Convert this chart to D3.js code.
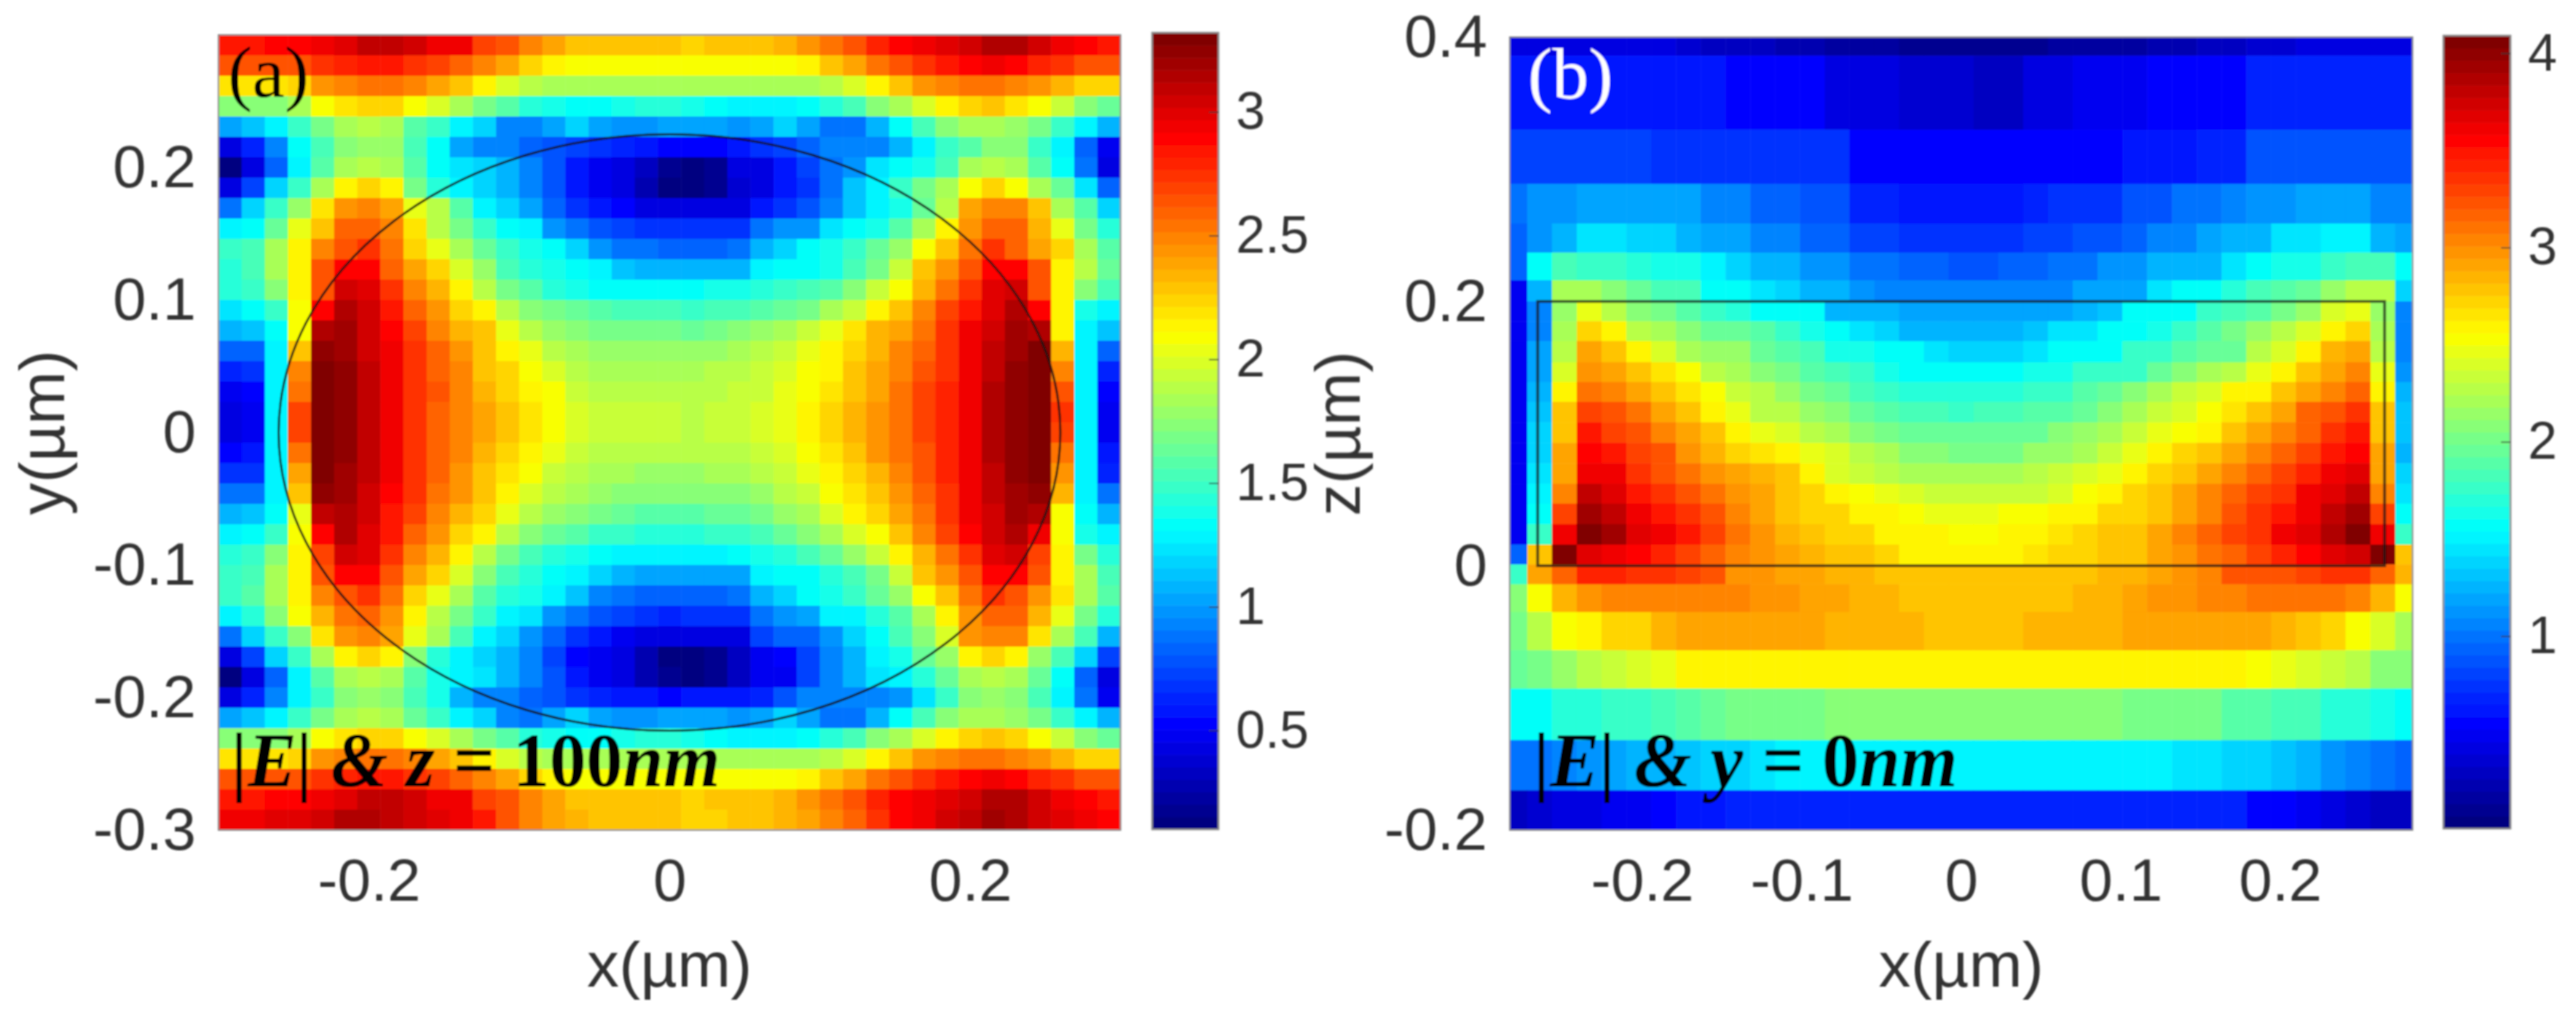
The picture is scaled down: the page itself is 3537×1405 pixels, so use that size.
<!DOCTYPE html>
<html>
<head>
<meta charset="utf-8">
<script src="https://cdnjs.cloudflare.com/ajax/libs/d3/7.8.5/d3.min.js"></script>
<style>
  body { margin: 0; background: #fff; }
  text { font-family: "Liberation Sans", Arial, sans-serif; fill: #333; }
  text.note { font-family: "Liberation Serif", serif; }
</style>
</head>
<body>
<div id="chart"></div>
<script>
// |E| at z = 100 nm, top row first, 39 x 39 cells
const fieldA = [
  [2.85,2.85,2.9,2.9,2.95,3.0,3.08,3.1,3.02,2.95,2.92,2.7,2.63,2.5,2.41,2.3,2.27,2.27,2.27,2.27, 2.26,2.3,2.3,2.3,2.35,2.45,2.52,2.65,2.78,2.9,2.93,3.0,3.05,3.12,3.15,3.05,2.95,2.88,2.85],
  [2.65,2.65,2.62,2.62,2.75,2.8,2.85,2.85,2.76,2.68,2.57,2.5,2.38,2.25,2.16,2.11,2.11,2.11,2.11,2.11, 2.1,2.1,2.1,2.1,2.1,2.16,2.28,2.4,2.52,2.65,2.75,2.85,2.9,2.92,2.88,2.8,2.75,2.62,2.62],
  [2.2,2.2,2.2,2.25,2.45,2.5,2.52,2.52,2.5,2.41,2.27,2.13,1.97,1.91,1.85,1.85,1.85,1.85,1.85,1.85, 1.85,1.85,1.85,1.85,1.85,1.85,1.9,2.0,2.15,2.28,2.42,2.5,2.52,2.55,2.5,2.45,2.35,2.25,2.25],
  [1.75,1.72,1.72,1.85,2.1,2.2,2.24,2.24,2.11,2.0,1.85,1.69,1.56,1.44,1.36,1.31,1.31,1.37,1.44,1.44, 1.4,1.35,1.28,1.28,1.3,1.35,1.42,1.55,1.72,1.85,2.0,2.12,2.25,2.3,2.2,2.08,1.92,1.75,1.65],
  [1.05,1.15,1.3,1.5,1.7,1.85,1.88,1.85,1.6,1.5,1.26,1.18,.94,.91,1.04,1.2,1.04,1.0,1.0,1.02, 1.05,1.02,1.0,1.05,1.2,1.05,.9,.9,1.1,1.35,1.55,1.72,1.85,1.85,1.8,1.68,1.5,1.28,1.1],
  [.45,.65,.95,1.32,1.52,1.72,1.78,1.78,1.53,1.33,1.04,.94,.91,.85,.78,.72,.66,.61,.56,.55, .55,.55,.58,.66,.74,.85,.91,.91,.94,1.08,1.27,1.47,1.6,1.75,1.72,1.5,1.3,.85,.5],
  [.12,.42,.85,1.3,1.6,1.82,1.9,1.85,1.56,1.34,1.21,1.16,1.1,.91,.78,.6,.5,.45,.32,.2, .15,.2,.43,.45,.56,.72,.87,1.0,1.23,1.31,1.37,1.53,1.85,1.9,1.85,1.6,1.31,.9,.45],
  [.45,.72,1.2,1.5,1.85,2.12,2.25,2.12,1.69,1.44,1.26,1.2,1.07,.91,.78,.58,.5,.43,.27,.12, .11,.16,.4,.42,.56,.7,.9,1.13,1.29,1.47,1.69,1.85,2.11,2.24,2.11,1.85,1.63,1.23,.82],
  [.9,1.18,1.48,1.78,2.2,2.45,2.48,2.4,2.05,1.88,1.56,1.3,1.2,1.02,.85,.69,.6,.52,.45,.43, .42,.42,.45,.6,.66,.77,.94,1.13,1.26,1.4,1.63,1.91,2.38,2.47,2.47,2.27,1.85,1.6,1.16],
  [1.3,1.35,1.65,2.05,2.3,2.58,2.58,2.5,2.18,1.91,1.66,1.5,1.31,1.26,.97,.88,.78,.72,.69,.67, .69,.69,.69,.88,1.0,1.0,1.23,1.31,1.4,1.6,1.85,2.15,2.45,2.58,2.58,2.35,2.05,1.7,1.45],
  [1.5,1.55,1.85,2.15,2.5,2.62,2.72,2.55,2.25,2.06,1.85,1.63,1.5,1.37,1.31,1.16,.97,.9,.86,.85, .85,.85,.88,1.1,1.2,1.31,1.38,1.5,1.62,1.78,2.08,2.3,2.55,2.75,2.6,2.38,2.22,1.85,1.6],
  [1.45,1.52,1.85,2.15,2.65,2.88,2.88,2.6,2.38,2.22,2.0,1.78,1.53,1.44,1.36,1.31,1.26,1.13,1.1,1.1, 1.1,1.1,1.1,1.28,1.32,1.35,1.4,1.55,1.7,1.95,2.28,2.42,2.62,2.88,2.88,2.62,2.12,1.88,1.62],
  [1.42,1.48,1.72,2.15,2.65,3.05,3.0,2.73,2.5,2.35,2.14,1.91,1.69,1.56,1.44,1.39,1.34,1.31,1.31,1.31, 1.32,1.38,1.4,1.45,1.5,1.52,1.6,1.75,1.95,2.1,2.32,2.55,2.72,2.98,3.05,2.65,2.12,1.72,1.52],
  [1.25,1.32,1.5,2.1,2.88,3.15,3.02,2.83,2.57,2.44,2.24,2.14,1.91,1.75,1.66,1.63,1.56,1.55,1.53,1.52, 1.5,1.52,1.55,1.58,1.65,1.7,1.82,1.95,2.12,2.3,2.48,2.7,2.82,3.0,3.12,2.88,2.12,1.4,1.3],
  [1.1,1.12,1.32,2.08,3.12,3.18,3.05,2.87,2.7,2.5,2.36,2.27,2.06,1.91,1.78,1.75,1.7,1.7,1.68,1.68, 1.65,1.68,1.72,1.78,1.85,1.95,2.05,2.18,2.32,2.4,2.55,2.75,2.95,3.05,3.18,3.15,2.15,1.3,1.12],
  [.82,.85,1.28,2.3,3.25,3.2,3.05,2.94,2.73,2.57,2.44,2.29,2.16,2.02,1.91,1.85,1.8,1.8,1.79,1.79, 1.78,1.8,1.82,1.88,1.95,2.02,2.12,2.22,2.35,2.48,2.6,2.75,2.95,3.1,3.2,3.28,2.35,1.28,.82],
  [.65,.7,1.28,2.48,3.28,3.22,3.08,2.95,2.76,2.6,2.49,2.31,2.22,2.1,1.97,1.91,1.86,1.86,1.85,1.85, 1.85,1.88,1.9,1.95,2.0,2.08,2.15,2.3,2.38,2.48,2.65,2.75,2.95,3.1,3.22,3.3,2.5,1.28,.65],
  [.5,.55,1.28,2.55,3.3,3.25,3.1,2.95,2.76,2.62,2.5,2.36,2.25,2.16,2.08,1.96,1.89,1.89,1.88,1.88, 1.88,1.9,1.92,1.95,2.02,2.1,2.2,2.3,2.4,2.52,2.68,2.78,2.95,3.12,3.25,3.3,2.65,1.28,.55],
  [.45,.48,1.28,2.7,3.32,3.25,3.1,2.95,2.76,2.6,2.5,2.38,2.28,2.2,2.11,2.0,1.92,1.92,1.92,1.92, 1.9,1.92,1.95,1.98,2.05,2.12,2.25,2.32,2.42,2.55,2.7,2.8,2.95,3.12,3.25,3.32,2.72,1.28,.48],
  [.45,.48,1.28,2.7,3.32,3.25,3.1,2.95,2.76,2.6,2.5,2.38,2.28,2.2,2.11,2.0,1.92,1.92,1.92,1.92, 1.9,1.92,1.95,2.0,2.05,2.12,2.25,2.32,2.42,2.55,2.7,2.8,2.95,3.12,3.25,3.32,2.7,1.28,.48],
  [.55,.6,1.28,2.55,3.3,3.25,3.1,2.95,2.74,2.6,2.5,2.35,2.25,2.15,2.06,1.95,1.88,1.88,1.87,1.87, 1.88,1.88,1.9,1.92,2.0,2.08,2.2,2.3,2.42,2.52,2.65,2.78,2.95,3.12,3.25,3.3,2.55,1.28,.58],
  [.68,.7,1.28,2.4,3.28,3.2,3.08,2.93,2.74,2.58,2.46,2.3,2.2,2.08,1.96,1.9,1.84,1.82,1.8,1.8, 1.8,1.82,1.85,1.88,1.95,2.02,2.12,2.25,2.35,2.48,2.62,2.78,2.95,3.1,3.22,3.28,2.42,1.3,.65],
  [.88,.9,1.28,2.3,3.25,3.18,3.05,2.9,2.72,2.55,2.42,2.28,2.14,2.0,1.9,1.82,1.77,1.75,1.72,1.72, 1.72,1.72,1.75,1.8,1.88,1.95,2.08,2.2,2.28,2.42,2.6,2.75,2.95,3.08,3.2,3.25,2.32,1.3,.88],
  [1.1,1.12,1.32,2.05,3.08,3.12,3.02,2.86,2.68,2.5,2.34,2.25,2.05,1.9,1.78,1.72,1.66,1.62,1.6,1.6, 1.6,1.62,1.65,1.7,1.78,1.85,1.98,2.12,2.22,2.38,2.55,2.72,2.92,3.05,3.18,3.15,2.1,1.32,1.1],
  [1.28,1.32,1.5,2.1,2.9,3.12,3.0,2.82,2.58,2.44,2.24,2.12,1.9,1.73,1.62,1.56,1.5,1.48,1.45,1.45, 1.45,1.48,1.5,1.55,1.62,1.72,1.85,1.98,2.1,2.28,2.48,2.68,2.88,3.02,3.15,2.92,2.1,1.4,1.3],
  [1.42,1.48,1.72,2.15,2.68,3.05,2.98,2.74,2.5,2.35,2.14,1.9,1.7,1.55,1.44,1.36,1.32,1.3,1.3,1.28, 1.28,1.3,1.32,1.38,1.45,1.55,1.65,1.78,1.95,2.12,2.32,2.55,2.75,2.98,3.05,2.68,2.12,1.7,1.45],
  [1.48,1.55,1.85,2.15,2.62,2.88,2.88,2.62,2.38,2.22,2.0,1.76,1.52,1.42,1.35,1.3,1.2,1.08,1.04,1.03, 1.02,1.02,1.05,1.28,1.32,1.35,1.42,1.55,1.7,1.95,2.28,2.42,2.65,2.88,2.88,2.62,2.15,1.85,1.55],
  [1.5,1.58,1.85,2.15,2.5,2.62,2.72,2.56,2.25,2.06,1.82,1.6,1.45,1.36,1.3,1.12,.95,.9,.85,.84, .85,.85,.88,1.1,1.2,1.31,1.38,1.5,1.62,1.8,2.08,2.3,2.55,2.75,2.62,2.42,2.2,1.85,1.6],
  [1.3,1.42,1.72,2.08,2.32,2.55,2.58,2.45,2.15,1.9,1.66,1.48,1.3,1.25,1.0,.88,.78,.72,.66,.64, .69,.69,.69,.88,1.0,1.02,1.28,1.3,1.42,1.6,1.85,2.15,2.42,2.58,2.58,2.35,2.05,1.7,1.45],
  [.88,1.18,1.5,1.75,2.2,2.45,2.48,2.38,2.05,1.85,1.55,1.3,1.18,1.0,.85,.7,.58,.5,.44,.42, .42,.42,.42,.72,.85,.82,.97,1.2,1.31,1.52,1.72,2.0,2.42,2.5,2.5,2.2,1.85,1.55,1.1],
  [.45,.72,1.18,1.5,1.85,2.12,2.25,2.12,1.72,1.44,1.28,1.2,1.07,.91,.72,.53,.5,.42,.3,.13, .13,.2,.34,.47,.53,.72,.91,1.07,1.26,1.4,1.62,1.8,2.12,2.25,2.12,1.8,1.55,1.18,.75],
  [.12,.42,.85,1.28,1.6,1.82,1.9,1.85,1.6,1.37,1.26,1.21,1.08,.91,.77,.6,.5,.43,.3,.17, .12,.2,.32,.46,.5,.74,.91,1.1,1.24,1.3,1.42,1.65,1.85,1.9,1.85,1.62,1.32,.85,.42],
  [.42,.65,.92,1.3,1.5,1.72,1.78,1.75,1.55,1.36,1.1,.91,.91,.84,.78,.7,.65,.6,.57,.55, .56,.56,.58,.62,.78,.91,.94,.94,.94,.97,1.23,1.5,1.72,1.8,1.75,1.55,1.3,.9,.5],
  [1.05,1.15,1.3,1.5,1.7,1.85,1.88,1.82,1.62,1.5,1.26,1.18,.94,.9,1.02,1.18,1.02,1.0,1.0,1.02, 1.05,1.02,1.0,1.05,1.18,1.05,.9,.9,1.1,1.35,1.55,1.72,1.85,1.85,1.8,1.68,1.5,1.28,1.1],
  [1.75,1.72,1.72,1.85,2.1,2.2,2.24,2.24,2.11,2.0,1.85,1.69,1.56,1.44,1.36,1.31,1.31,1.37,1.44,1.44, 1.4,1.35,1.28,1.28,1.3,1.35,1.42,1.55,1.72,1.85,2.0,2.12,2.25,2.3,2.22,2.08,1.92,1.75,1.65],
  [2.2,2.2,2.2,2.25,2.45,2.5,2.52,2.52,2.5,2.41,2.27,2.13,1.97,1.91,1.85,1.85,1.85,1.85,1.85,1.85, 1.85,1.85,1.85,1.85,1.85,1.85,1.9,2.0,2.15,2.28,2.42,2.5,2.52,2.55,2.5,2.45,2.35,2.25,2.25],
  [2.65,2.65,2.62,2.62,2.75,2.8,2.85,2.85,2.76,2.68,2.57,2.5,2.38,2.25,2.16,2.11,2.11,2.11,2.11,2.11, 2.1,2.1,2.1,2.1,2.1,2.16,2.28,2.4,2.52,2.65,2.75,2.85,2.9,2.92,2.88,2.8,2.75,2.62,2.62],
  [2.85,2.85,2.9,2.9,2.95,3.0,3.08,3.1,3.02,2.95,2.92,2.7,2.63,2.5,2.41,2.3,2.27,2.27,2.27,2.27, 2.26,2.28,2.3,2.3,2.35,2.45,2.52,2.65,2.78,2.9,2.93,3.0,3.05,3.12,3.15,3.05,2.95,2.88,2.85],
  [2.92,2.92,2.97,2.97,3.03,3.12,3.12,3.1,3.05,3.0,2.92,2.86,2.66,2.5,2.4,2.32,2.29,2.29,2.29,2.29, 2.22,2.25,2.28,2.3,2.32,2.38,2.48,2.6,2.75,2.9,2.95,3.02,3.1,3.18,3.15,3.05,2.98,2.92,2.9]
];

// |E| at y = 0 nm, top row first, 37 columns x 27 rows on a non-uniform mesh
const fieldB = [
  [.4,.4,.4,.4,.4,.4,.4,.38,.3,.3,.3,.25,.25,.2,.2,.2,.12,.12,.08,.08,.1,.12,.18,.18,.18,.2,.22,.25,.28,.3,.35,.38,.42,.42,.42,.42,.42],
  [.64,.64,.64,.64,.64,.64,.6,.6,.6,.56,.56,.56,.56,.45,.45,.45,.33,.33,.33,.3,.3,.4,.4,.48,.48,.48,.52,.52,.57,.57,.66,.66,.66,.66,.66,.66,.66],
  [.8,.8,.8,.8,.8,.8,.76,.76,.76,.76,.76,.72,.72,.72,.56,.56,.52,.52,.52,.52,.52,.52,.52,.52,.52,.64,.64,.64,.7,.7,.84,.84,.84,.84,.84,.84,.84],
  [1.0,1.12,1.12,1.2,1.2,1.2,1.16,1.16,1.06,1.06,.96,.96,.86,.86,.7,.7,.6,.6,.6,.6,.62,.7,.72,.76,.76,.9,.9,.98,.98,1.04,1.14,1.14,1.2,1.2,1.2,1.08,1.04],
  [.92,1.12,1.28,1.44,1.44,1.38,1.38,1.28,1.18,1.18,1.04,1.04,.92,.92,.8,.8,.74,.74,.74,.72,.72,.8,.8,.9,.9,.96,1.08,1.08,1.16,1.28,1.28,1.42,1.42,1.5,1.5,1.28,1.2],
  [.92,1.54,1.82,1.78,1.78,1.7,1.66,1.66,1.48,1.36,1.24,1.24,1.12,1.12,1.0,1.0,.92,.92,.9,.88,.94,.94,1.02,1.02,1.12,1.12,1.28,1.28,1.28,1.42,1.56,1.66,1.66,1.74,1.82,1.82,1.54],
  [.5,1.28,2.22,2.22,2.1,1.94,1.82,1.82,1.6,1.54,1.46,1.36,1.24,1.24,1.14,1.06,1.06,1.06,1.04,1.04,1.04,1.08,1.08,1.18,1.18,1.18,1.44,1.54,1.56,1.7,1.82,1.86,1.98,2.14,2.26,2.26,1.36],
  [.5,1.08,2.14,2.46,2.3,2.1,2.02,1.9,1.78,1.7,1.56,1.54,1.54,1.28,1.24,1.24,1.2,1.16,1.16,1.16,1.16,1.22,1.22,1.28,1.32,1.54,1.54,1.54,1.74,1.82,1.9,2.02,2.14,2.38,2.46,2.14,1.08],
  [.5,1.08,2.22,2.72,2.56,2.3,2.22,2.06,1.94,1.94,1.86,1.78,1.66,1.56,1.42,1.36,1.28,1.28,1.28,1.28,1.28,1.34,1.42,1.42,1.54,1.58,1.64,1.78,1.9,2.02,2.14,2.26,2.38,2.56,2.72,2.22,1.08],
  [.5,1.16,2.26,2.9,2.8,2.56,2.38,2.22,2.14,2.14,1.98,1.9,1.82,1.66,1.66,1.56,1.54,1.44,1.38,1.36,1.36,1.42,1.54,1.54,1.6,1.74,1.74,1.86,1.98,1.98,2.3,2.42,2.56,2.82,2.88,2.3,1.08],
  [.5,1.2,2.42,3.0,2.88,2.78,2.68,2.5,2.26,2.2,2.1,2.02,1.9,1.82,1.74,1.62,1.56,1.56,1.54,1.54,1.56,1.62,1.66,1.74,1.78,1.78,1.98,2.1,2.22,2.26,2.46,2.62,2.8,2.9,3.02,2.46,1.12],
  [.5,1.28,2.56,3.12,3.04,2.92,2.76,2.68,2.5,2.34,2.26,2.14,2.02,1.94,1.82,1.74,1.7,1.7,1.7,1.7,1.7,1.74,1.78,1.86,1.98,2.1,2.22,2.34,2.42,2.56,2.62,2.8,2.92,3.06,3.16,2.56,1.28],
  [.5,1.32,2.76,3.32,3.24,3.12,2.9,2.8,2.62,2.46,2.3,2.26,2.14,2.06,1.94,1.86,1.82,1.82,1.78,1.82,1.82,1.86,1.86,1.98,2.1,2.22,2.34,2.38,2.5,2.64,2.78,2.9,3.14,3.24,3.34,2.76,1.32],
  [.5,1.36,2.76,3.46,3.32,3.22,3.06,2.9,2.76,2.62,2.46,2.38,2.3,2.22,2.1,2.02,1.98,1.94,1.94,1.98,1.98,1.98,2.06,2.14,2.22,2.34,2.46,2.5,2.62,2.78,2.9,3.06,3.18,3.34,3.46,2.76,1.32],
  [.5,1.38,2.9,3.52,3.46,3.3,3.2,2.98,2.82,2.72,2.64,2.56,2.44,2.38,2.26,2.18,2.1,2.06,2.02,2.04,2.04,2.14,2.14,2.24,2.32,2.44,2.56,2.72,2.8,2.88,3.02,3.18,3.3,3.46,3.52,2.9,1.28],
  [.5,1.42,2.92,3.64,3.58,3.38,3.26,3.1,2.98,2.88,2.82,2.76,2.56,2.42,2.34,2.3,2.24,2.18,2.18,2.2,2.2,2.26,2.32,2.38,2.48,2.56,2.74,2.78,2.9,3.02,3.14,3.28,3.42,3.58,3.66,2.92,1.38],
  [.5,1.5,3.06,3.8,3.68,3.46,3.38,3.24,3.1,2.96,2.9,2.8,2.72,2.56,2.52,2.44,2.38,2.34,2.34,2.36,2.36,2.36,2.42,2.5,2.56,2.72,2.76,2.9,3.04,3.16,3.28,3.38,3.6,3.66,3.8,3.06,1.44],
  [.5,1.54,3.28,3.92,3.8,3.58,3.48,3.36,3.2,3.02,2.92,2.8,2.74,2.72,2.56,2.56,2.5,2.44,2.44,2.44,2.5,2.54,2.56,2.56,2.7,2.74,2.8,2.92,3.06,3.2,3.36,3.48,3.6,3.82,3.92,3.28,1.54],
  [.5,1.78,3.58,4.08,3.92,3.7,3.6,3.46,3.32,3.12,2.98,2.82,2.76,2.74,2.7,2.62,2.58,2.58,2.5,2.5,2.56,2.56,2.64,2.72,2.76,2.8,2.9,3.02,3.18,3.28,3.38,3.58,3.66,3.86,4.08,3.58,1.78],
  [.96,2.76,4.08,3.7,3.64,3.52,3.44,3.32,3.18,3.06,2.98,2.9,2.84,2.8,2.76,2.74,2.62,2.62,2.56,2.56,2.56,2.64,2.72,2.72,2.76,2.76,2.9,3.0,3.08,3.14,3.28,3.4,3.52,3.66,3.74,4.09,2.76],
  [1.78,2.9,3.14,3.42,3.4,3.38,3.34,3.3,3.26,2.98,2.96,2.9,2.9,2.84,2.82,2.8,2.76,2.76,2.76,2.76,2.76,2.76,2.76,2.76,2.84,2.84,2.9,2.98,3.06,3.24,3.24,3.24,3.3,3.38,3.38,3.14,2.84],
  [2.06,2.5,2.82,2.98,3.06,3.06,3.06,3.06,3.06,3.02,2.98,2.95,2.9,2.88,2.85,2.85,2.8,2.78,2.78,2.78,2.78,2.78,2.8,2.82,2.85,2.88,2.95,2.98,3.02,3.02,3.08,3.1,3.12,3.08,3.02,2.82,2.5],
  [2.0,2.25,2.5,2.62,2.7,2.75,2.85,2.88,2.88,2.88,2.88,2.88,2.88,2.85,2.85,2.82,2.82,2.8,2.78,2.78,2.8,2.82,2.82,2.85,2.85,2.88,2.88,2.88,2.88,2.88,2.88,2.85,2.78,2.75,2.55,2.42,2.2],
  [1.95,2.0,2.12,2.25,2.35,2.42,2.48,2.56,2.56,2.56,2.56,2.56,2.56,2.56,2.56,2.56,2.56,2.56,2.56,2.56,2.56,2.56,2.56,2.56,2.56,2.56,2.56,2.56,2.56,2.56,2.5,2.46,2.4,2.36,2.28,2.1,2.05],
  [1.55,1.6,1.68,1.72,1.75,1.78,1.85,1.9,1.95,2.0,2.0,2.02,2.02,2.05,2.05,2.05,2.05,2.05,2.05,2.05,2.05,2.05,2.05,2.05,2.05,2.0,2.0,2.0,2.0,1.92,1.88,1.85,1.8,1.72,1.68,1.65,1.58],
  [.98,1.0,1.05,1.1,1.18,1.25,1.28,1.3,1.35,1.4,1.45,1.48,1.5,1.52,1.52,1.52,1.52,1.52,1.52,1.52,1.52,1.52,1.52,1.52,1.52,1.52,1.48,1.45,1.42,1.38,1.35,1.3,1.25,1.1,1.05,1.0,.95],
  [.3,.38,.42,.44,.46,.5,.55,.6,.62,.66,.7,.7,.7,.7,.7,.7,.7,.7,.7,.7,.7,.7,.7,.7,.7,.7,.7,.7,.68,.65,.55,.52,.48,.42,.35,.3,.28]
];

// mesh edges of panel b, in µm
const xEdgesB = [-.283,-.2721,-.2566,-.2410,-.2255,-.2099,-.1944,-.1788,-.1633,-.1477,-.1322,-.1166,-.1011,-.0855,-.0700,-.0544,-.0389,-.0233,-.0078,
  .0078,.0233,.0389,.0544,.0700,.0855,.1011,.1166,.1322,.1477,.1633,.1788,.1944,.2099,.2255,.2410,.2566,.2721,.283];
const zEdgesB = [.4,.386,.33,.289,.259,.237,.216,.2,.185,.17,.154,.139,.124,.1085,.093,.0775,.062,.047,.0315,.016,.001,-.014,-.035,-.064,-.093,-.132,-.17,-.2];

// ticks
const xTicksA = [-.2, 0, .2];
const yTicksA = [-.3, -.2, -.1, 0, .1, .2];
const xTicksB = [-.2, -.1, 0, .1, .2];
const yTicksB = [-.2, 0, .2, .4];
const cbTicksA = [.5, 1, 1.5, 2, 2.5, 3];
const cbTicksB = [1, 2, 3, 4];

// jet colormap
const jetStops = [0, .125, .375, .625, .875, 1];
const jetColors = ["#000080", "#0000ff", "#00ffff", "#ffff00", "#ff0000", "#800000"];
const jetBase = d3.scaleLinear().domain(jetStops).range(jetColors).clamp(true);
const jet = t => jetBase(Math.min(63, Math.floor(t * 64)) / 63); // 64 niveaux comme MATLAB

const W = 3537, H = 1405;
const svg = d3.select("#chart").append("svg")
  .attr("width", W).attr("height", H)
  .style("display", "block");

// the source picture is an upscaled bitmap, a small blur brings it closer
svg.append("filter").attr("id", "soft")
  .attr("filterUnits", "userSpaceOnUse")
  .attr("x", 0).attr("y", 0).attr("width", W).attr("height", H)
  .append("feGaussianBlur").attr("stdDeviation", 1.1);

const root = svg.append("g").attr("filter", "url(#soft)");

function drawAxes(x, y, xTicks, yTicks, xLabel, yLabel, yLabelX) {
  const bottom = y.range()[0];
  const left = x.range()[0];
  const midX = (x.range()[0] + x.range()[1]) / 2;
  const midY = (y.range()[0] + y.range()[1]) / 2;

  root.append("rect")
    .attr("x", left).attr("y", y.range()[1])
    .attr("width", x.range()[1] - left).attr("height", bottom - y.range()[1])
    .attr("fill", "none").attr("stroke", "#8a8a8a").attr("stroke-width", 2);

  const ax = root.append("g")
    .attr("transform", `translate(0,${bottom})`)
    .call(d3.axisBottom(x).tickValues(xTicks).tickSize(0).tickPadding(39).tickFormat(d => String(d)));
  const ay = root.append("g")
    .attr("transform", `translate(${left},0)`)
    .call(d3.axisLeft(y).tickValues(yTicks).tickSize(0).tickPadding(31).tickFormat(d => String(d)));
  [ax, ay].forEach(g => {
    g.select(".domain").remove();
    g.selectAll("text").style("font-size", "82px").style("font-family", "Liberation Sans").attr("fill", "#333");
  });

  root.append("text")
    .attr("x", midX).attr("y", 1355)
    .attr("text-anchor", "middle").style("font-size", "88px")
    .text(xLabel);
  root.append("text")
    .attr("transform", `translate(${yLabelX},${midY}) rotate(-90)`)
    .attr("text-anchor", "middle").style("font-size", "88px")
    .text(yLabel);
}

function drawColorbar(x0, x1, y, ticks) {
  const levels = d3.range(64);
  const band = d3.scaleBand().domain(levels).range(y.range());
  root.append("g").selectAll("rect")
    .data(levels)
    .enter().append("rect")
    .attr("x", x0)
    .attr("y", d => band(d))
    .attr("width", x1 - x0)
    .attr("height", band.bandwidth() + .5)
    .attr("fill", d => jet(d / 63));
  root.append("rect")
    .attr("x", x0).attr("y", y.range()[1])
    .attr("width", x1 - x0).attr("height", y.range()[0] - y.range()[1])
    .attr("fill", "none").attr("stroke", "#8a8a8a").attr("stroke-width", 2.5);
  const g = root.append("g")
    .attr("transform", `translate(${x1},0)`)
    .call(d3.axisRight(y).tickValues(ticks).tickSize(-13).tickPadding(24).tickFormat(d => String(d)));
  g.select(".domain").remove();
  g.selectAll("line").attr("stroke", "#333").attr("stroke-width", 1.5);
  g.selectAll("text").style("font-size", "72px").style("font-family", "Liberation Sans").attr("fill", "#333");
}

// bold italic label in the plot, squeezed a little in x like the original
function drawNote(x, y, squeeze, before, digits) {
  const note = root.append("text").attr("class", "note")
    .attr("transform", `translate(${x},${y}) scale(${squeeze},1)`)
    .style("font-size", "106px").style("font-weight", "bold").style("font-style", "italic").style("fill", "#000");
  note.append("tspan").text(before);
  note.append("tspan").style("font-style", "normal").text(digits);
  note.append("tspan").text("nm");
}

// ---- panel a ----
const xA = d3.scaleLinear().domain([-.3, .3]).range([300, 1538.5]);
const yA = d3.scaleLinear().domain([-.3, .3]).range([1140, 48]);
const colsA = d3.scaleBand().domain(d3.range(39)).range(xA.range());
const rowsA = d3.scaleBand().domain(d3.range(39)).range([yA.range()[1], yA.range()[0]]);
const rangeA = [.1, 3.32];
const tA = d3.scaleLinear().domain(rangeA).range([0, 1]).clamp(true);

root.append("g").selectAll("g")
  .data(fieldA)
  .enter().append("g")
  .selectAll("rect")
  .data((row, i) => row.map((v, j) => ({ i, j, v })))
  .enter().append("rect")
  .attr("x", d => colsA(d.j))
  .attr("y", d => rowsA(d.i))
  .attr("width", colsA.bandwidth() + .5)
  .attr("height", rowsA.bandwidth() + .5)
  .attr("fill", d => jet(tA(d.v)));

root.append("ellipse")
  .attr("cx", xA(0)).attr("cy", yA(0))
  .attr("rx", xA(.26) - xA(0)).attr("ry", yA(0) - yA(.225))
  .attr("fill", "none").attr("stroke", "#111").attr("stroke-width", 3).attr("stroke-opacity", .9);

drawAxes(xA, yA, xTicksA, yTicksA, "x(µm)", "y(µm)", 88);
drawColorbar(1582, 1673, d3.scaleLinear().domain(rangeA).range([1139, 45]), cbTicksA);

root.append("text").attr("class", "note")
  .attr("x", 313).attr("y", 133)
  .style("font-size", "100px").style("fill", "#000")
  .text("(a)");

drawNote(318, 1080, .948, "|E| & z = ", "100");

// ---- panel b ----
const xB = d3.scaleLinear().domain([-.283, .283]).range([2073, 3312.5]);
const yB = d3.scaleLinear().domain([-.2, .4]).range([1140, 51]);
const rangeB = [.01, 4.09];
const tB = d3.scaleLinear().domain(rangeB).range([0, 1]).clamp(true);

root.append("g").selectAll("g")
  .data(fieldB)
  .enter().append("g")
  .selectAll("rect")
  .data((row, i) => row.map((v, j) => ({ i, j, v })))
  .enter().append("rect")
  .attr("x", d => xB(xEdgesB[d.j]))
  .attr("y", d => yB(zEdgesB[d.i]))
  .attr("width", d => xB(xEdgesB[d.j + 1]) - xB(xEdgesB[d.j]) + .5)
  .attr("height", d => yB(zEdgesB[d.i + 1]) - yB(zEdgesB[d.i]) + .5)
  .attr("fill", d => jet(tB(d.v)));

root.append("rect")
  .attr("x", xB(-.2655)).attr("y", yB(.2))
  .attr("width", xB(.2655) - xB(-.2655)).attr("height", yB(0) - yB(.2))
  .attr("fill", "none").attr("stroke", "#111").attr("stroke-width", 4).attr("stroke-opacity", .7);

drawAxes(xB, yB, xTicksB, yTicksB, "x(µm)", "z(µm)", 1867);
drawColorbar(3355, 3447, d3.scaleLinear().domain(rangeB).range([1138, 49]), cbTicksB);

root.append("text").attr("class", "note")
  .attr("x", 2098).attr("y", 135)
  .style("font-size", "100px").style("fill", "#fff")
  .text("(b)");

drawNote(2106, 1080, .958, "|E| & y = ", "0");
</script>
</body>
</html>
